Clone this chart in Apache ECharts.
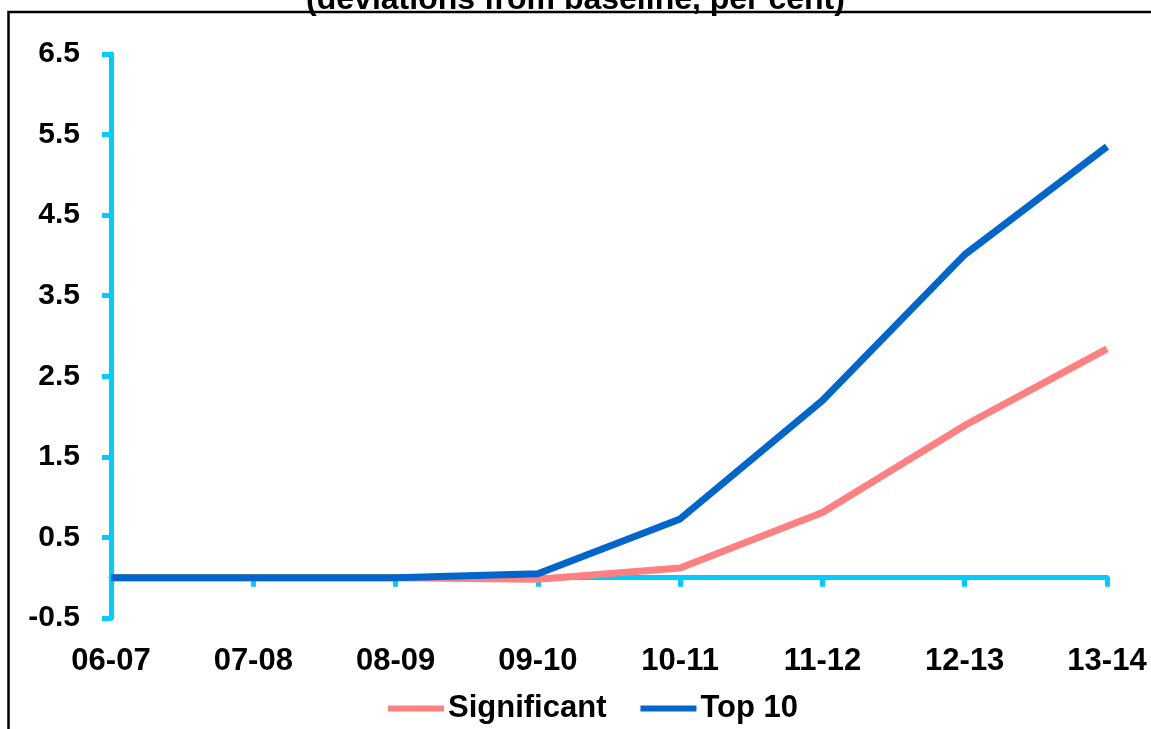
<!DOCTYPE html>
<html>
<head>
<meta charset="utf-8">
<script src="https://cdn.jsdelivr.net/npm/echarts@6/dist/echarts.min.js"></script>
<style>
html,body{margin:0;padding:0;background:#fff;}
#c{width:1151px;height:729px;}
</style>
</head>
<body>
<div id="c"></div>
<script>
const titleText = '(deviations from baseline, per cent)';
const categories = ['06-07','07-08','08-09','09-10','10-11','11-12','12-13','13-14'];
const significant = [0, 0, 0, -0.02, 0.12, 0.81, 1.89, 2.84];
const top10 = [0, 0, 0, 0.05, 0.73, 2.2, 4.01, 5.35];
const seriesNames = ['Significant', 'Top 10'];

const FONT = '"Liberation Sans", Arial, sans-serif';
const chart = echarts.init(document.getElementById('c'));
chart.setOption({
  animation: false,
  backgroundColor: '#fff',
  graphic: [{
    type: 'polyline',
    shape: { points: [[8.5, 740], [8.5, 12], [1160, 12]] },
    style: { stroke: '#000', lineWidth: 2.5, fill: null },
    z: 100
  }],
  title: {
    text: titleText,
    left: 'center',
    top: -21,
    textStyle: { fontFamily: FONT, fontWeight: 'bold', fontSize: 32, color: '#000' }
  },
  legend: {
    data: seriesNames,
    left: 383,
    top: 688,
    itemWidth: 56,
    itemHeight: 6,
    itemGap: 34,
    icon: 'rect',
    textStyle: { fontFamily: FONT, fontWeight: 'bold', fontSize: 31, color: '#000', padding: [0, 0, 0, -1] }
  },
  grid: { left: 111, right: 44, top: 54, bottom: 111, containLabel: false },
  xAxis: {
    type: 'category',
    data: categories,
    boundaryGap: false,
    axisLine: { onZero: true, lineStyle: { color: '#00CCFF', width: 5 } },
    axisTick: { show: true, alignWithLabel: true, length: 9, lineStyle: { color: '#00CCFF', width: 5 } },
    axisLabel: { margin: 28, fontFamily: FONT, fontWeight: 'bold', fontSize: 31, color: '#000' },
    splitLine: { show: false }
  },
  yAxis: {
    type: 'value',
    min: -0.5,
    max: 6.5,
    interval: 1,
    axisLine: { show: true, lineStyle: { color: '#00CCFF', width: 5 } },
    axisTick: { show: true, length: 9, lineStyle: { color: '#00CCFF', width: 5 } },
    axisLabel: { margin: 31, fontFamily: FONT, fontWeight: 'bold', fontSize: 30, color: '#000',
      formatter: v => v.toFixed(1) },
    splitLine: { show: false }
  },
  series: [
    { name: seriesNames[0], type: 'line', data: significant, symbol: 'none',
      lineStyle: { color: '#FF8080', width: 7 }, itemStyle: { color: '#FF8080' } },
    { name: seriesNames[1], type: 'line', data: top10, symbol: 'none',
      lineStyle: { color: '#0066CC', width: 7 }, itemStyle: { color: '#0066CC' } }
  ]
});
</script>
</body>
</html>
